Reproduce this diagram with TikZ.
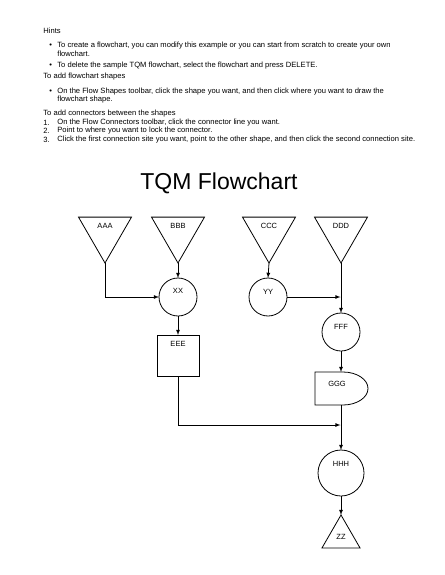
\documentclass[tikz,border=0pt]{standalone}
\usepackage{fontspec}
\setmainfont{Liberation Sans}
\usetikzlibrary{arrows,calc,positioning,shapes.geometric}

\begin{document}
\begin{tikzpicture}
[
	              x = 1pt, y = -1pt,
	           >= latex,
	   line width = 0.8pt,
	  vertex/.style = { draw=black, circle, minimum size=38pt, inner sep=0pt, outer sep=0pt },
	    bigvertex/.style = { vertex, minimum size=46pt },
	 funnel/.style = { draw=black, regular polygon, regular polygon sides=3, shape border rotate=180, minimum size=61.2pt, inner sep=0pt, outer sep=0pt },
	 cone/.style = { draw=black, regular polygon, regular polygon sides=3, minimum size=44pt, inner sep=0pt, outer sep=0pt },
	 box/.style = { draw=black, rectangle, minimum width=42pt, minimum height=41pt, inner sep=0pt, outer sep=0pt },
	 delaybox/.style = { draw=none, rectangle, minimum width=53pt, minimum height=33pt, inner sep=0pt, outer sep=0pt },
  coordinate/.style = { draw=none, fill=none, circle, inner sep=0pt, outer sep=0pt },
	   label/.style = { draw=none, fill=none, anchor=west, inner sep=0pt, font=\fontsize{7.6}{8}\selectfont },
	shapelabel/.style = { draw=none, fill=none, inner sep=0pt, font=\fontsize{7.5}{8}\selectfont }
]
    \useasboundingbox (0,0) rectangle (444,575);

    % hints
    \node (HintsLabel)      at ( 43, 31) [label] {Hints};
    \node (Bullet1)         at ( 49, 46) [label] {\textbullet};
    \node (Hint1)           at ( 57, 46) [label] {To create a flowchart, you can modify this example or you can start from scratch to create your own};
    \node (Hint1b)          at ( 57, 54) [label] {flowchart.};
    \node (Bullet2)         at ( 49, 66) [label] {\textbullet};
    \node (Hint2)           at ( 57, 66) [label] {To delete the sample TQM flowchart, select the flowchart and press DELETE.};
    \node (ShapesLabel)     at ( 43, 77) [label] {To add flowchart shapes};
    \node (Bullet3)         at ( 49, 92) [label] {\textbullet};
    \node (Hint3)           at ( 57, 92) [label] {On the Flow Shapes toolbar, click the shape you want, and then click where you want to draw the};
    \node (Hint3b)          at ( 57,100) [label] {flowchart shape.};
    \node (ConnLabel)       at ( 43,114) [label] {To add connectors between the shapes};
    \node (Step1Num)        at ( 43,123) [label] {1.};
    \node (Step1)           at ( 57,123) [label] {On the Flow Connectors toolbar, click the connector line you want.};
    \node (Step2Num)        at ( 43,131) [label] {2.};
    \node (Step2)           at ( 57,131) [label] {Point to where you want to lock the connector.};
    \node (Step3Num)        at ( 43,140) [label] {3.};
    \node (Step3)           at ( 57,140) [label] {Click the first connection site you want, point to the other shape, and then click the second connection site.};

    % title
    \node (Title)           at (219,183) [shapelabel, font=\fontsize{23}{26}\selectfont] {TQM Flowchart};

    % shapes
    \node (AAA)             at (105,232.4) [funnel] {};
    \node (AAALabel)        at (105,226)   [shapelabel] {AAA};
    \node (BBB)             at (178,232.4) [funnel] {};
    \node (BBBLabel)        at (178,226)   [shapelabel] {BBB};
    \node (CCC)             at (269,232.4) [funnel] {};
    \node (CCCLabel)        at (269,226)   [shapelabel] {CCC};
    \node (DDD)             at (341,232.4) [funnel] {};
    \node (DDDLabel)        at (341,226)   [shapelabel] {DDD};

    \node (XX)              at (178,297) [vertex] {};
    \node (XXLabel)         at (178,291) [shapelabel] {XX};
    \node (YY)              at (268,297) [vertex] {};
    \node (YYLabel)         at (268,292) [shapelabel] {YY};
    \node (YYJoin)          at (341,297) [coordinate] {};

    \node (FFF)             at (341,332) [vertex] {};
    \node (FFFLabel)        at (341,327) [shapelabel] {FFF};
    \node (EEE)             at (178,355.5) [box] {};
    \node (EEELabel)        at (178,344) [shapelabel] {EEE};

    \node (GGG)             at (341.5,388.5) [delaybox] {};
    \node (GGGLabel)        at (337,384) [shapelabel] {GGG};
    \draw (GGG.north west) -- ++(28,0)
          arc[start angle=90, end angle=-90, x radius=25pt, y radius=16.5pt]
          -- (GGG.south west) -- cycle;

    \node (EEEJoin)         at (341,425) [coordinate] {};
    \node (HHH)             at (341,473) [bigvertex] {};
    \node (HHHLabel)        at (341,464) [shapelabel] {HHH};
    \node (ZZ)              at (341,537) [cone] {};
    \node (ZZLabel)         at (341,537) [shapelabel] {ZZ};

    % connectors
    \draw[->] (AAA.corner 1) |- (XX.west);
    \draw[->] (BBB.corner 1) -- (XX.north);
    \draw[->] (CCC.corner 1) -- (YY.north);
    \draw[->] (YY.east) -- (YYJoin);
    \draw[->] (DDD.corner 1) -- (FFF.north);
    \draw[->] (XX.south) -- (EEE.north);
    \draw[->] (FFF.south) -- (FFF.south |- GGG.north);
    \draw[->] (EEE.south) |- (EEEJoin);
    \draw[->] (GGG.south -| FFF.south) -- (HHH.north);
    \draw[->] (HHH.south) -- (ZZ.corner 1);

\end{tikzpicture}
\end{document}
